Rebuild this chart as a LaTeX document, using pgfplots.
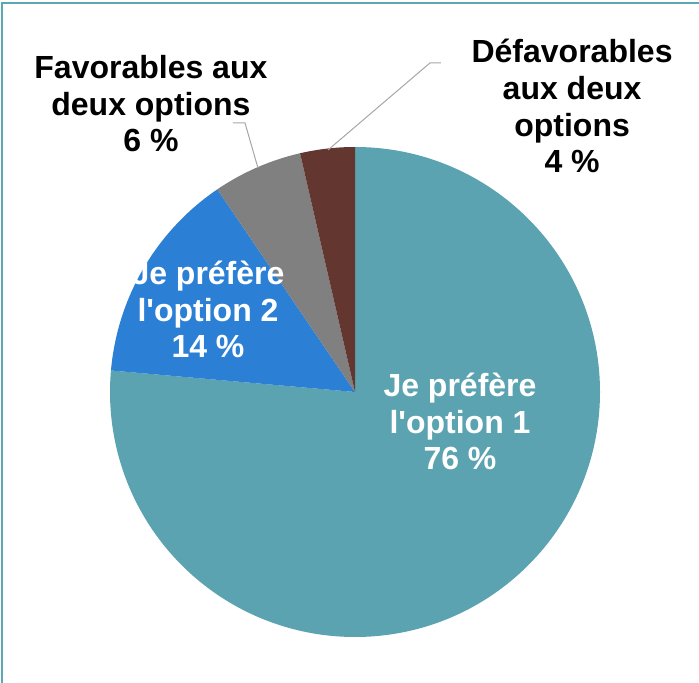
\documentclass[border=0pt]{standalone}
\usepackage{fontspec}
\setmainfont{Liberation Sans}
\usepackage{pgfplots}
\usepackage{pgfplotstable}
\pgfplotsset{compat=1.18}

\definecolor{slice0}{RGB}{91,163,176}
\definecolor{slice1}{RGB}{43,127,213}
\definecolor{slice2}{RGB}{128,128,128}
\definecolor{slice3}{RGB}{100,54,48}
\definecolor{framecol}{RGB}{90,168,180}
\definecolor{leader}{RGB}{166,166,166}

% base anchor of a multi-line node = baseline of its last line
\tikzset{lbl/.style={font=\bfseries\fontsize{32bp}{36.8bp}\selectfont, align=center, anchor=base}}

% share of each slice, clockwise from 12 o'clock
\pgfplotstableread{
id value
0 76.4
1 14.1
2 5.9
3 3.6
}\piedata

\begin{document}
\begin{tikzpicture}
\useasboundingbox (0,0) rectangle (699bp,683bp);
\draw[framecol, line width=2bp] (2bp,0) -- (2bp,679.5bp) -- (699bp,679.5bp);

\begin{axis}[
    at={(355bp,291bp)}, anchor=origin,
    x=245bp, y=245bp,
    xmin=-1, xmax=1, ymin=-1, ymax=1,
    hide axis, clip=false,
]
\def\cumul{0}
\pgfplotsforeachungrouped \i in {0,...,3}{
    \pgfplotstablegetelem{\i}{value}\of\piedata
    \let\v=\pgfplotsretval
    \pgfmathsetmacro\a{90-3.6*\cumul}
    \pgfmathsetmacro\b{90-3.6*(\cumul+\v)}
    \pgfmathsetmacro\cumul{\cumul+\v}
    \edef\temp{\noexpand\fill[slice\i] (axis cs:0,0) -- (axis cs:{cos(\a)},{sin(\a)})
        arc[start angle=\a, end angle=\b, radius=245bp] -- cycle;}
    \temp
}

% leader lines
\draw[leader, line width=1bp] (axis cs:-0.498,1.098) -- (axis cs:-0.449,1.098) -- (axis cs:-0.396,0.914);
\draw[leader, line width=1bp] (axis cs:0.351,1.343) -- (axis cs:0.306,1.343) -- (axis cs:-0.110,0.988);

% labels
\node[lbl, white] at (axis cs:0.4286,-0.318) {Je préfère\\l\textquotesingle option 1\\76 \%};
\node[lbl, white] at (axis cs:-0.6,0.1388) {Je préfère\\l\textquotesingle option 2\\14 \%};
\node[lbl, black] at (axis cs:-0.833,0.9796) {Favorables aux\\deux options\\6 \%};
\node[lbl, black] at (axis cs:0.886,0.8939) {Défavorables\\aux deux\\options\\4 \%};
\end{axis}
\end{tikzpicture}
\end{document}
